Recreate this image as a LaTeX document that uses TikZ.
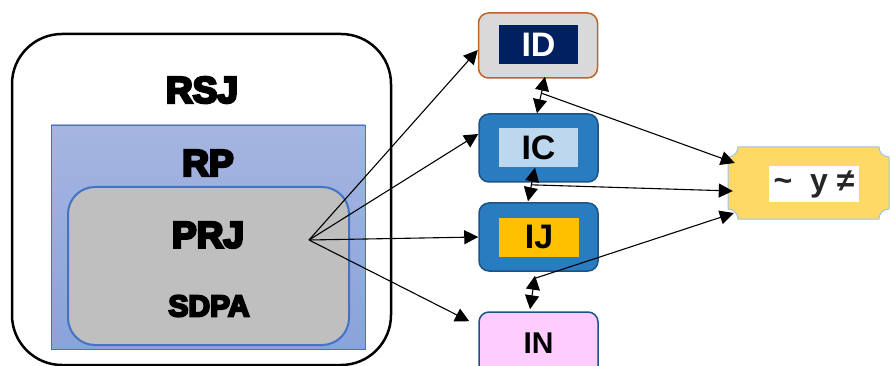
\documentclass[tikz,border=0pt]{standalone}
\usepackage{fontspec}
\setmainfont{Liberation Sans}
\newfontfamily\hv[FakeBold=7]{Liberation Sans Bold}
\usetikzlibrary{arrows.meta,calc}
\definecolor{navy}{RGB}{0,32,96}
\definecolor{idgray}{RGB}{217,217,217}
\definecolor{idbrown}{RGB}{190,100,40}
\definecolor{bluebox}{RGB}{42,124,192}
\definecolor{blueline}{RGB}{30,82,132}
\definecolor{lightblue}{RGB}{189,215,238}
\definecolor{orange}{RGB}{255,192,0}
\definecolor{pink}{RGB}{255,204,255}
\definecolor{plqfill}{RGB}{255,217,102}
\definecolor{plqline}{RGB}{157,195,230}
\definecolor{prjfill}{RGB}{191,191,191}
\definecolor{prjline}{RGB}{68,114,196}
\definecolor{rptop}{RGB}{166,181,225}
\definecolor{rpbot}{RGB}{138,163,218}
\definecolor{dark}{RGB}{38,38,38}
\begin{document}
\begin{tikzpicture}[x=1pt,y=-1pt,
  big/.style={inner sep=0pt, font=\hv\fontsize{37}{40}\selectfont},
  box/.style={rounded corners=10pt, line width=1.5pt, minimum width=119pt, minimum height=68pt, inner sep=0pt},
  inbox/.style={inner sep=0pt, minimum width=79pt, minimum height=39pt, font=\bfseries\fontsize{34}{36}\selectfont},
  arr/.style={line width=1.1pt, -{Triangle[length=14pt,width=14pt]}},
  dbl/.style={line width=1.1pt, {Triangle[length=14pt,width=14pt]}-{Triangle[length=14pt,width=14pt]}}]
\useasboundingbox (0,0) rectangle (891,366);
\clip (0,0) rectangle (891,366);
% left nested containers
\node[draw=black, line width=2.5pt, rounded corners=50pt, minimum width=379pt, minimum height=331pt, inner sep=0pt] (RSJ) at (201.5,199.5) {};
\node[big] (RSJt) at (202,90) {RSJ};
\node[top color=rptop, bottom color=rpbot, draw=prjline, line width=0.8pt, minimum width=314pt, minimum height=224pt, inner sep=0pt] (RP) at (208,237) {};
\node[big] (RPt) at (208,163) {RP};
\node[fill=prjfill, draw=prjline, line width=2pt, rounded corners=27pt, minimum width=281pt, minimum height=158pt, inner sep=0pt] (PRJ) at (208.5,266) {};
\node[big] (PRJt) at (208,235) {PRJ};
\node[inner sep=0pt, font=\hv\fontsize{30}{32}\selectfont] (SDPA) at (209,306) {SDPA};
% right boxes
\node[box, fill=idgray, draw=idbrown, minimum height=65pt] (ID) at (538,45.5) {};
\node[inbox, fill=navy, text=white] (IDt) at (538.5,45) {ID};
\node[box, fill=bluebox, draw=blueline] (IC) at (538.5,148) {};
\node[inbox, fill=lightblue, text=black] (ICt) at (538.5,148) {IC};
\node[box, fill=bluebox, draw=blueline] (IJ) at (538.5,237) {};
\node[inbox, fill=orange, text=black, minimum width=80pt] (IJt) at (539,237) {IJ};
\node[box, fill=pink, draw=blueline, minimum height=66pt] (IN) at (538.5,345) {};
\node[inner sep=0pt, font=\bfseries\fontsize{30}{32}\selectfont] (INt) at (538.5,343) {IN};
% plaque
\filldraw[fill=plqfill, draw=plqline, line width=1pt] (738,147) -- (879,147) .. controls (879,152.5) and (883.5,157) .. (889,157) -- (889,209) .. controls (883.5,209) and (879,213.5) .. (879,219) -- (738,219) .. controls (738,213.5) and (733.5,209) .. (728,209) -- (728,157) .. controls (733.5,157) and (738,152.5) .. (738,147) -- cycle;
\node[minimum width=161pt, minimum height=72pt, inner sep=0pt] (Y) at (808.5,183) {};
\node[fill=white, minimum width=90pt, minimum height=36pt, inner sep=0pt, text=dark, font=\bfseries\fontsize{32}{34}\selectfont] (Yt) at (814,184) {\textasciitilde\ \ y\ ≠};
% connectors from PRJ
\coordinate (P) at (309,240);
\draw[arr] (P) -- ([yshift=-4.5pt]ID.west);
\draw[arr] (P) -- ([yshift=14pt]IC.west);
\draw[arr] (P) -- (IJ.west);
\draw[arr] (P) -- ([xshift=-9pt,yshift=-10pt]IN.north west);
% double arrows between boxes
\coordinate (a1) at ([xshift=7pt,yshift=2pt]ID.south);
\coordinate (b1) at ([xshift=-1.5pt]IC.north);
\draw[dbl] (a1) -- (b1);
\coordinate (m1) at ($(a1)!0.45!(b1)$);
\coordinate (a2) at ([xshift=-3.5pt,yshift=15pt]IC.south);
\coordinate (b2) at ([xshift=-10.5pt,yshift=1pt]IJ.north);
\draw[dbl] (a2) -- (b2);
\coordinate (m2) at ($(a2)!0.51!(b2)$);
\coordinate (a3) at ([xshift=-3.5pt,yshift=-4pt]IJ.south);
\coordinate (b3) at ([xshift=-8.5pt,yshift=2pt]IN.north);
\draw[dbl] (a3) -- (b3);
\coordinate (m3) at ($(a3)!0.08!(b3)$);
% lines to plaque
\draw[arr] (m1) -- ([xshift=7pt,yshift=20pt]Y.west);
\draw[arr] (m2) -- ([xshift=5pt,yshift=-8pt]Y.west);
\draw[arr] (m3) -- ([xshift=6pt,yshift=-30pt]Y.west);
\end{tikzpicture}
\end{document}
